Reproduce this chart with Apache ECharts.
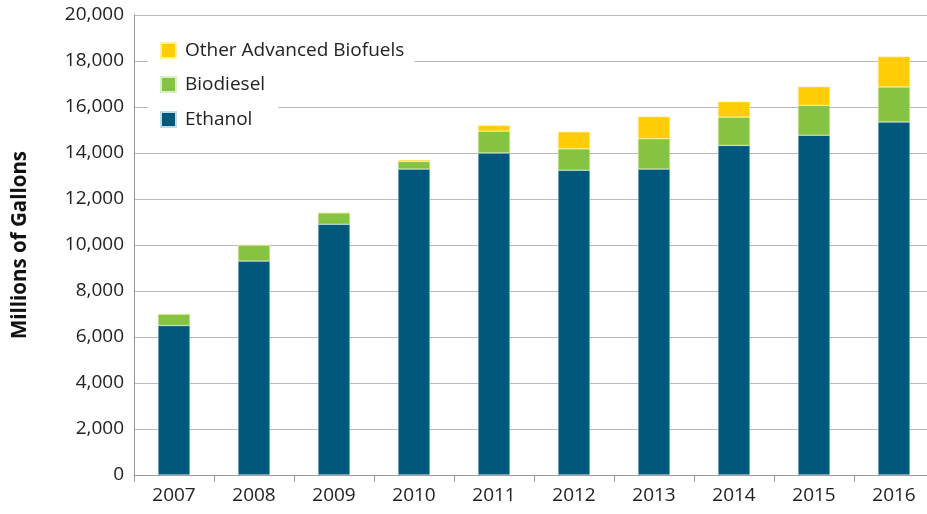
<!DOCTYPE html>
<html>
<head>
<meta charset="utf-8">
<script src="https://cdn.jsdelivr.net/npm/echarts@6/dist/echarts.min.js"></script>
<style>
  html, body { margin: 0; padding: 0; background: #fff; }
  #chart { width: 927px; height: 514px; }
</style>
</head>
<body>
<div id="chart"></div>
<script>
// 年份
const years = ["2007", "2008", "2009", "2010", "2011", "2012", "2013", "2014", "2015", "2016"];
// 乙醇 / 生物柴油 / 其他先进生物燃料（百万加仑）
const ethanol = [6500, 9300, 10900, 13300, 14000, 13250, 13300, 14330, 14770, 15350];
const biodiesel = [500, 700, 500, 330, 950, 930, 1320, 1230, 1300, 1520];
const otherAdvanced = [0, 0, 0, 70, 250, 740, 960, 670, 810, 1320];

const font = "Open Sans";

function legendRow(name, top, right) {
  return {
    data: [name],
    icon: "rect",
    left: 148,
    top: top,
    orient: "vertical",
    itemWidth: 15,
    itemHeight: 15,
    itemGap: 0,
    padding: [6, right, 6, 12],
    backgroundColor: "#fff",
    textStyle: { fontFamily: font, fontSize: 19, color: "#222", padding: [0, 0, 0, 4] }
  };
}

let option = {
  animation: false,
  textStyle: { fontFamily: font },
  legend: [
    legendRow("Other Advanced Biofuels", 35, 10),
    legendRow("Biodiesel", 69, 12),
    legendRow("Ethanol", 104, 26)
  ],
  grid: {
    left: 134,
    top: 15,
    width: 800,
    bottom: 39,
    outerBoundsMode: "none"
  },
  xAxis: {
    type: "category",
    data: years,
    axisLine: { lineStyle: { color: "#999", width: 1 } },
    axisTick: { show: true, length: 7, lineStyle: { color: "#999" } },
    axisLabel: { fontFamily: font, fontSize: 19, color: "#222", margin: 11 }
  },
  yAxis: {
    type: "value",
    min: 0,
    max: 20000,
    interval: 2000,
    name: "Millions of Gallons",
    nameLocation: "middle",
    nameGap: 103,
    nameTextStyle: { fontFamily: font, fontSize: 20.5, fontWeight: "bold", color: "#111" },
    axisLine: { show: true, lineStyle: { color: "#999", width: 1 } },
    axisTick: { show: false },
    splitLine: { lineStyle: { color: "#b8b8b8", width: 1 } },
    axisLabel: {
      fontFamily: font,
      fontSize: 19,
      color: "#222",
      margin: 10,
      formatter: function (v) { return v.toLocaleString("en-US"); }
    }
  },
  series: [
    {
      name: "Ethanol",
      type: "bar",
      stack: "fuel",
      barWidth: "40%",
      data: ethanol,
      itemStyle: { color: "#00587A", borderColor: "#c5dbe4", borderWidth: 0.5 }
    },
    {
      name: "Biodiesel",
      type: "bar",
      stack: "fuel",
      data: biodiesel,
      itemStyle: { color: "#85C341", borderColor: "#d8eec4", borderWidth: 0.5 }
    },
    {
      name: "Other Advanced Biofuels",
      type: "bar",
      stack: "fuel",
      data: otherAdvanced,
      itemStyle: { color: "#FFCD05", borderColor: "#ffeeaa", borderWidth: 0.5 }
    }
  ]
};

let myChart = echarts.init(document.getElementById("chart"));
myChart.setOption(option);
</script>
</body>
</html>
